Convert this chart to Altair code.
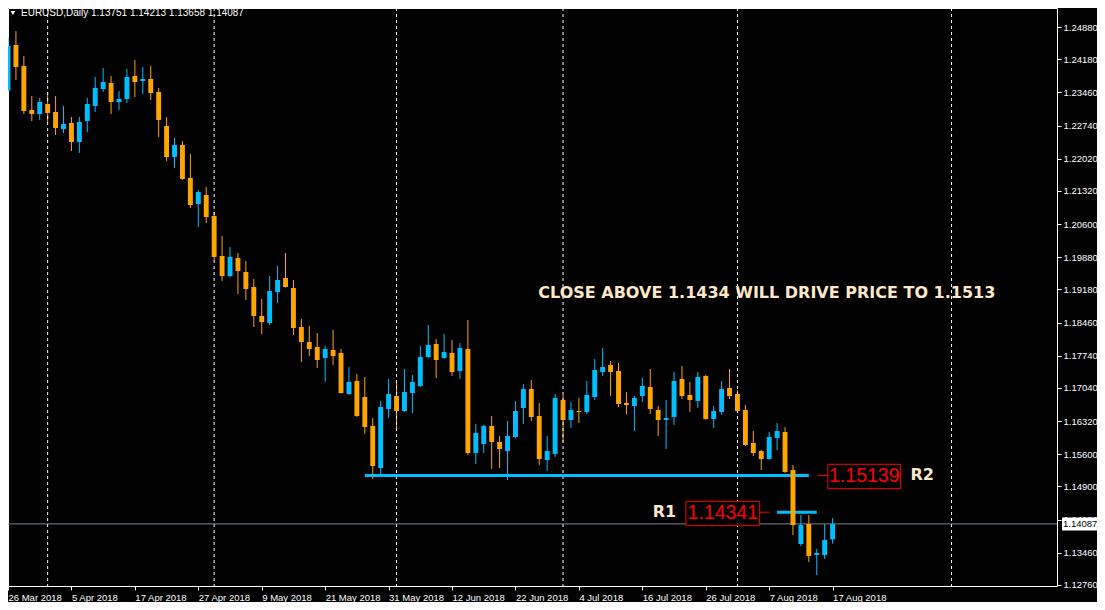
import altair as alt
import pandas as pd

# ---------------- data (EURUSD, Daily) ----------------
opens = [1.23497, 1.24489, 1.24033, 1.23077, 1.22990, 1.23208, 1.23034, 1.22665, 1.22795, 1.22382,
         1.22838, 1.23164, 1.23533, 1.23664, 1.23251, 1.23316, 1.23816, 1.23707, 1.23751, 1.23468,
         1.22730, 1.22056, 1.22317, 1.21600, 1.21036, 1.21231, 1.20775, 1.19906, 1.19472, 1.19863,
         1.19559, 1.19233, 1.18603, 1.18451, 1.19124, 1.19428, 1.19211, 1.18364, 1.18038, 1.17930,
         1.17690, 1.17864, 1.17799, 1.16909, 1.17191, 1.16844, 1.16214, 1.15301, 1.16583, 1.16865,
         1.16539, 1.16930, 1.17083, 1.17712, 1.17995, 1.17690, 1.17799, 1.17408, 1.17886, 1.15627,
         1.15823, 1.16214, 1.15866, 1.15671, 1.15975, 1.16605, 1.17017, 1.16431, 1.15475, 1.15606,
         1.16778, 1.16344, 1.16539, 1.16518, 1.16844, 1.17387, 1.17539, 1.17408, 1.16713, 1.16648,
         1.16865, 1.17061, 1.16561, 1.16344, 1.16409, 1.17235, 1.16887, 1.16757, 1.17300, 1.16366,
         1.16518, 1.17039, 1.16909, 1.16561, 1.15844, 1.15671, 1.15497, 1.15953, 1.16083, 1.15258,
         1.13651, 1.14085, 1.13412, 1.13412, 1.13751]
highs = [1.24648, 1.24793, 1.24250, 1.23381, 1.23338, 1.23468, 1.23381, 1.23164, 1.22925, 1.22925,
         1.23338, 1.23794, 1.23989, 1.23816, 1.23490, 1.23968, 1.24163, 1.24011, 1.24033, 1.23555,
         1.22925, 1.22469, 1.22404, 1.22122, 1.21340, 1.21405, 1.20862, 1.20340, 1.20102, 1.19971,
         1.19798, 1.19407, 1.18972, 1.19472, 1.19689, 1.19971, 1.19385, 1.18538, 1.18386, 1.18234,
         1.17951, 1.18299, 1.17886, 1.17495, 1.17343, 1.17278, 1.16387, 1.16757, 1.17235, 1.17169,
         1.17452, 1.17321, 1.17951, 1.18407, 1.18103, 1.18212, 1.18082, 1.18016, 1.18516, 1.16257,
         1.16235, 1.16431, 1.15997, 1.16322, 1.16757, 1.17126, 1.17213, 1.16713, 1.15997, 1.16909,
         1.16887, 1.16735, 1.16822, 1.17191, 1.17669, 1.17908, 1.17626, 1.17582, 1.16952, 1.16865,
         1.17256, 1.17452, 1.16648, 1.16778, 1.17387, 1.17517, 1.17169, 1.17387, 1.17320, 1.16648,
         1.17191, 1.17452, 1.16996, 1.16670, 1.16105, 1.15692, 1.16083, 1.16279, 1.16190, 1.15367,
         1.14280, 1.14280, 1.13542, 1.14085, 1.14213]
lows = [1.23490, 1.23729, 1.22990, 1.22838, 1.22860, 1.22817, 1.22534, 1.22578, 1.22187, 1.22143,
        1.22599, 1.23034, 1.23468, 1.22990, 1.23077, 1.23229, 1.23360, 1.23425, 1.23294, 1.22491,
        1.21970, 1.21817, 1.21560, 1.20949, 1.20536, 1.20623, 1.19819, 1.19363, 1.19450, 1.19081,
        1.18950, 1.18364, 1.18212, 1.18407, 1.18885, 1.19220, 1.18190, 1.17604, 1.17734, 1.17473,
        1.17170, 1.17539, 1.16920, 1.16887, 1.16409, 1.16040, 1.15063, 1.15149, 1.16387, 1.16127,
        1.16520, 1.16496, 1.17060, 1.17690, 1.17256, 1.17680, 1.17300, 1.17235, 1.15584, 1.15388,
        1.15627, 1.15280, 1.15301, 1.15041, 1.15953, 1.16257, 1.16322, 1.15367, 1.15236, 1.15540,
        1.15866, 1.16170, 1.16279, 1.16474, 1.16778, 1.17300, 1.16865, 1.16626, 1.16474, 1.16105,
        1.16735, 1.16474, 1.15997, 1.15714, 1.16235, 1.16800, 1.16518, 1.16605, 1.16350, 1.16170,
        1.16453, 1.16800, 1.16520, 1.15779, 1.15562, 1.15258, 1.15475, 1.15692, 1.15200, 1.13846,
        1.13607, 1.13260, 1.12977, 1.13325, 1.13658]
closes = [1.24467, 1.24011, 1.23056, 1.22990, 1.23251, 1.23012, 1.22686, 1.22773, 1.22382, 1.22817,
          1.23208, 1.23555, 1.23685, 1.23251, 1.23316, 1.23794, 1.23685, 1.23751, 1.23446, 1.22860,
          1.22056, 1.22317, 1.21579, 1.21014, 1.21296, 1.20753, 1.19884, 1.19472, 1.19884, 1.19580,
          1.19189, 1.18603, 1.18473, 1.19146, 1.19385, 1.19233, 1.18342, 1.18038, 1.17886, 1.17647,
          1.17886, 1.17734, 1.16930, 1.17169, 1.16431, 1.16192, 1.15345, 1.16626, 1.16909, 1.16539,
          1.16952, 1.17169, 1.17712, 1.17973, 1.17647, 1.17821, 1.17387, 1.17908, 1.15627, 1.16062,
          1.16214, 1.15866, 1.15714, 1.15997, 1.16539, 1.17017, 1.16409, 1.15497, 1.15671, 1.16822,
          1.16344, 1.16561, 1.16518, 1.16887, 1.17430, 1.17495, 1.17387, 1.16692, 1.16670, 1.16822,
          1.17083, 1.16583, 1.16344, 1.16387, 1.17191, 1.16865, 1.16778, 1.17278, 1.16366, 1.16539,
          1.17017, 1.16865, 1.16539, 1.15801, 1.15627, 1.15497, 1.15975, 1.16105, 1.15215, 1.14063,
          1.14063, 1.13390, 1.13455, 1.13738, 1.14087]

date_labels = ["26 Mar 2018", "5 Apr 2018", "17 Apr 2018", "27 Apr 2018", "9 May 2018",
               "21 May 2018", "31 May 2018", "12 Jun 2018", "22 Jun 2018", "4 Jul 2018",
               "16 Jul 2018", "26 Jul 2018", "7 Aug 2018", "17 Aug 2018"]
date_label_bars = [0, 8, 16, 24, 32, 40, 48, 56, 64, 72, 80, 88, 96, 104]
price_ticks = [1.2488, 1.2418, 1.2346, 1.2274, 1.2202, 1.2132, 1.2060, 1.1988, 1.1918,
               1.1846, 1.1774, 1.1704, 1.1632, 1.1560, 1.1490, 1.1418, 1.1346, 1.1276]
month_separators = [5, 26, 49, 70, 92, 119]

r2_level = 1.15139
r2_line_bars = [45, 101]
r1_level = 1.14341
r1_line_bars = [97, 102]
last_price = 1.14087
header_text = "EURUSD,Daily  1.13751 1.14213 1.13658 1.14087"
note_text = "CLOSE ABOVE 1.1434 WILL DRIVE PRICE TO 1.1513"

# ---------------- chart ----------------
PLOT_W, PLOT_H = 1049, 578
BULL, BEAR = "#00BFFF", "#FFA500"
CREAM = "#FFE8C8"
AX_FONT = "Liberation Sans"

bars = pd.DataFrame({"bar": list(range(len(opens))), "open": opens, "high": highs,
                     "low": lows, "close": closes})
one = pd.DataFrame({"k": [0]})

xs = alt.Scale(domain=[0, 132.3], nice=False, zero=False)
ys = alt.Scale(domain=[1.12738, 1.25293], nice=False, zero=False)

label_js = "[" + ",".join("'" + s + "'" for s in date_labels) + "]"
x_axis = alt.Axis(values=date_label_bars, labelExpr=label_js + "[round(datum.value / 8)]",
                  orient="bottom", labelAlign="left", labelBaseline="top", labelFlush=False,
                  labelOverlap=False, tickSize=4, tickColor="white", labelColor="white",
                  labelFont=AX_FONT, labelFontSize=9.5, labelPadding=2, domain=False,
                  grid=False, title="")
y_axis = alt.Axis(values=price_ticks, format=".5f", orient="right", labelOverlap=False,
                  labelFlush=False, tickSize=4, tickColor="white", labelColor="white",
                  labelFont=AX_FONT, labelFontSize=9.5, labelPadding=2, domain=False,
                  grid=False, title="")


def X(field):
    return alt.X(field, scale=xs, axis=x_axis)


def Y(field):
    return alt.Y(field, scale=ys, axis=y_axis)


def XD(v):
    return alt.XDatum(v, scale=xs, axis=x_axis)


def YD(v):
    return alt.YDatum(v, scale=ys, axis=y_axis)


color_enc = alt.Color("dir:N", scale=alt.Scale(domain=["up", "down"], range=[BULL, BEAR]),
                      legend=None)

base = alt.Chart(bars).transform_calculate(
    dir="datum.close >= datum.open ? 'up' : 'down'",
    x0="datum.bar - 0.31",
    x1="datum.bar + 0.31",
)

wicks = base.mark_rule(strokeWidth=1, clip=True).encode(
    x=X("bar:Q"), y=Y("low:Q"), y2="high:Q", color=color_enc)
bodies = base.mark_rect(clip=True).encode(
    x=X("x0:Q"), x2="x1:Q", y=Y("open:Q"), y2="close:Q", color=color_enc)

grid = alt.Chart(pd.DataFrame({"sep": month_separators})).mark_rule(
    color="white", strokeDash=[3, 3], strokeWidth=1
).encode(x=X("sep:Q"))

price_line = alt.Chart(one).mark_rule(color="#778899", strokeWidth=1).encode(y=YD(last_price))

r2_line = alt.Chart(one).mark_rule(color=BULL, strokeWidth=3).encode(
    x=XD(r2_line_bars[0]), x2=alt.X2Datum(r2_line_bars[1]), y=YD(r2_level))
r1_line = alt.Chart(one).mark_rule(color=BULL, strokeWidth=3).encode(
    x=XD(r1_line_bars[0]), x2=alt.X2Datum(r1_line_bars[1]), y=YD(r1_level))


def price_tag(level, box_x, box_x2, box_top, box_bottom, link_x, link_x2, tag_x,
              name, name_x):
    link = alt.Chart(one).mark_rule(color="#FF0000", strokeWidth=1).encode(
        x=XD(link_x), x2=alt.X2Datum(link_x2), y=YD(level))
    box = alt.Chart(one).mark_rect(fill="black", stroke="#FF0000", strokeWidth=1).encode(
        x=XD(box_x), x2=alt.X2Datum(box_x2), y=YD(box_top), y2=alt.Y2Datum(box_bottom))
    val = alt.Chart(one).mark_text(
        text=f"{level:.5f}", color="#FF0000", font=AX_FONT, fontSize=19.5,
        align="center", baseline="middle", dy=1
    ).encode(x=XD(tag_x), y=YD(level))
    lab = alt.Chart(one).mark_text(
        text=name, color=CREAM, font="DejaVu Sans", fontWeight="bold", fontSize=16,
        align="center", baseline="middle"
    ).encode(x=XD(name_x), y=YD(level))
    return [link, box, val, lab]


r2_tag = price_tag(r2_level, 103.4, 112.55, 1.15382, 1.14852, 102.1, 103.4, 108.0, "R2", 115.3)
r1_tag = price_tag(r1_level, 85.5, 94.8, 1.14578, 1.14048, 94.8, 96.05, 90.15, "R1", 82.8)

note = alt.Chart(one).mark_text(
    text=note_text, color=CREAM, font="DejaVu Sans", fontWeight="bold", fontSize=16,
    align="center", baseline="middle"
).encode(x=XD(95.7), y=YD(1.19098))

header = alt.Chart(one).mark_text(
    text=header_text, color="white", font=AX_FONT, fontSize=10, align="left",
    baseline="middle"
).encode(x=alt.value(13), y=alt.value(5))
triangle = alt.Chart(one).mark_point(
    shape="triangle-down", filled=True, color="white", opacity=1, size=22
).encode(x=alt.value(5), y=alt.value(5))

price_box = alt.Chart(one).mark_point(
    shape="M-1,-0.36L1,-0.36L1,0.36L-1,0.36Z", filled=True, color="white", opacity=1,
    size=1296
).encode(x=alt.value(PLOT_W + 23), y=YD(last_price))
price_box_text = alt.Chart(one).mark_text(
    text=f"{last_price:.5f}", color="black", font=AX_FONT, fontSize=9.5, align="left",
    baseline="middle"
).encode(x=alt.value(PLOT_W + 6), y=YD(last_price))

chart = alt.layer(
    wicks, grid, price_line, r2_line, r1_line, bodies,
    *r2_tag, *r1_tag, note, header, triangle, price_box, price_box_text
).properties(
    width=PLOT_W,
    height=PLOT_H,
    background="black",
    autosize=alt.AutoSizeParams(type="none"),
    padding={"left": 0, "top": 0, "right": 40, "bottom": 16},
).configure_view(
    stroke="white", strokeWidth=1, fill="black"
).configure_axis(
    labelColor="white", tickColor="white", zindex=0
)

chart.save("out.html", embed_options={"renderer": "svg", "actions": False})
